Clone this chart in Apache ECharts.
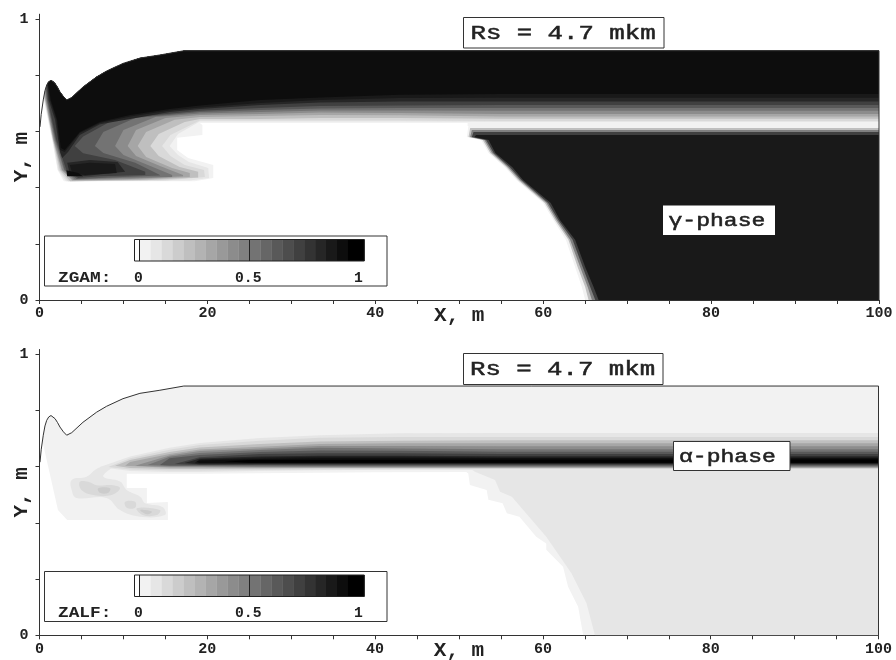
<!DOCTYPE html>
<html><head><meta charset="utf-8">
<style>html,body{margin:0;padding:0;background:#fff}#c{width:896px;height:660px}#c canvas{filter:blur(0.4px)}</style>
<script src="https://cdn.jsdelivr.net/npm/echarts@6/dist/echarts.min.js"></script>
</head><body><div id="c"></div>
<script>
const xTicks=[0,5,10,15,20,25,30,35,40,45,50,55,60,65,70,75,80,85,90,95,100];
const xLabels=[0,20,40,60,80,100];
const yTicks=[0,0.2,0.4,0.6,0.8,1];
const yLabels=[0,1];
const legendLevels=[0,0.05,0.1,0.15,0.2,0.25,0.3,0.35,0.4,0.45,0.5,0.55,0.6,0.65,0.7,0.75,0.8,0.85,0.9,0.95,1];
// Free surface of the domain, [x, y] in metres
const surface=[[0.06,0.616],[0.2,0.66],[0.45,0.712],[0.65,0.745],[0.86,0.765],[1.1,0.777],[1.37,0.782],[1.6,0.778],[1.85,0.771],[2.15,0.757],[2.44,0.741],[2.85,0.724],[3.24,0.712],[3.84,0.721],[5.18,0.758],[6.81,0.794],[8,0.815],[9.95,0.842],[11.97,0.861],[14.35,0.872],[17.2,0.887],[100,0.887]];
const stripX=[100,54.9,42.9,33.4,26.3,19.1];
// ZGAM: contour of each level, from the right edge leftwards
const gamLevels=[0.05,0.1,0.15,0.25,0.35,0.45,0.55,0.65,0.75,0.85,0.9,0.95];
const gamStrip=[
[0.63,0.63,0.63,0.63,0.63,0.63],
[0.633,0.633,0.635,0.635,0.635,0.635],
[0.637,0.637,0.639,0.639,0.639,0.639],
[0.645,0.645,0.648,0.648,0.644,0.644],
[0.653,0.653,0.657,0.658,0.655,0.651],
[0.662,0.662,0.665,0.667,0.662,0.658],
[0.673,0.673,0.674,0.674,0.669,0.664],
[0.683,0.683,0.683,0.681,0.676,0.669],
[0.694,0.694,0.692,0.69,0.683,0.673],
[0.706,0.706,0.706,0.703,0.694,0.68],
[0.72,0.72,0.719,0.712,0.701,0.685],
[0.733,0.733,0.73,0.721,0.712,0.692]];
const gamTail=[
[[19.4,0.623],[19.4,0.587],[16.4,0.577],[16.4,0.534],[17.7,0.505],[20.7,0.48],[20.7,0.434],[18.5,0.423],[2.9,0.423],[2.15,0.463],[1.5,0.569],[0.5,0.712],[0.4,0.712]],
[[16.5,0.591],[15.5,0.548],[16.5,0.516],[17.8,0.491],[20.1,0.47],[20.2,0.434],[17.9,0.425],[3.15,0.423],[2.2,0.463],[1.55,0.569],[0.55,0.712],[0.45,0.716]],
[[18.5,0.63],[15.6,0.587],[14.6,0.548],[15.6,0.512],[17.3,0.48],[19.6,0.463],[19.7,0.438],[15,0.425],[3.4,0.423],[2.3,0.463],[1.6,0.569],[0.6,0.712],[0.5,0.72]],
[[17.3,0.633],[14.2,0.591],[13.2,0.548],[14.2,0.512],[16.7,0.473],[18.9,0.456],[18.9,0.436],[13.2,0.427],[3.65,0.423],[2.45,0.463],[1.6,0.569],[0.65,0.712],[0.55,0.725]],
[[16.1,0.641],[12.7,0.598],[11.7,0.548],[12.7,0.509],[15.8,0.47],[17.9,0.452],[17.9,0.438],[12,0.429],[3.9,0.425],[2.6,0.463],[1.65,0.569],[0.7,0.712],[0.6,0.73]],
[[15,0.648],[11.5,0.605],[10.5,0.548],[11.5,0.512],[14.35,0.477],[17.1,0.445],[17.1,0.44],[10.8,0.431],[4,0.427],[2.7,0.463],[1.7,0.569],[0.75,0.712],[0.65,0.74]],
[[13.8,0.651],[10,0.605],[9,0.548],[10,0.516],[13.2,0.477],[15.8,0.445],[15.8,0.438],[9.6,0.434],[4.2,0.429],[2.9,0.463],[1.8,0.569],[0.85,0.712],[0.7,0.75]],
[[11.4,0.648],[7.6,0.598],[6.6,0.548],[7.6,0.523],[11.4,0.488],[14.35,0.445],[14.35,0.443],[8.4,0.436],[4.45,0.431],[3,0.463],[1.9,0.569],[0.9,0.712],[0.75,0.755]],
[[9,0.644],[5.2,0.582],[4.2,0.548],[5.2,0.522],[9,0.498],[12.6,0.456],[12.6,0.445],[7.2,0.44],[4.6,0.434],[3.2,0.463],[2,0.569],[1,0.712],[0.8,0.762]],
[[15.5,0.669],[10.8,0.644],[7.2,0.625],[4.8,0.587],[3.4,0.527],[2.7,0.505],[2.45,0.527],[1.85,0.641],[1.1,0.712],[0.9,0.77]],
[[15.5,0.674],[10.8,0.653],[7.2,0.63],[4.8,0.594],[3,0.527],[2.45,0.534],[2,0.641],[1.25,0.712],[0.95,0.772]],
[[15.5,0.68],[10.8,0.658],[7.2,0.633],[4.8,0.598],[3,0.534],[2.55,0.541],[2.1,0.641],[1.35,0.712],[1,0.775]]];
const gamPatchLevels=[0.05,0.85,0.9,0.95];
const gamPatches=[
[[51,0.619],[100,0.619],[100,0.632],[51,0.632]],
[[3.3,0.488],[6,0.498],[9.3,0.491],[10.2,0.456],[5.4,0.441],[3.6,0.448]],
[[3.6,0.48],[6,0.488],[9,0.484],[9.2,0.452],[5.4,0.445],[3.9,0.452]],
[[3.3,0.44],[3.2,0.462],[4.6,0.452],[5.2,0.44]]];
// ZGAM: lower-right wedge, x of each level at the heights in wedgeY
const wedgeY=[0.58,0.569,0.523,0.473,0.427,0.345,0.285,0.214,0.117,0.046,0];
const wedgeLevels=[0.05,0.25,0.5,0.75,0.9];
const wedgeTop=[0.621,0.612,0.605,0.598,0.587];
const wedgeX=[
[50.9,52.6,53.5,55.4,56.8,60,61.2,62.7,63.8,64.6,65],
[51.1,52.8,53.7,55.6,57,60.2,61.4,63,64.1,65,65.4],
[51.3,53,53.9,55.8,57.2,60.4,61.6,63.2,64.4,65.3,65.8],
[51.5,53.2,54.1,56,57.4,60.6,61.8,63.5,64.7,65.6,66.2],
[51.8,53.5,54.3,56.3,57.6,60.9,62,63.8,65,66,66.6]];
// ZALF: the dark lens
const alfLevels=[0.1,0.15,0.25,0.35,0.45,0.55,0.65,0.75,0.85,0.9,0.95];
const alfUp=[
[0.72,0.72,0.719,0.712,0.702,0.684],
[0.706,0.706,0.706,0.703,0.692,0.677],
[0.694,0.694,0.692,0.69,0.681,0.668],
[0.683,0.683,0.683,0.681,0.671,0.661],
[0.673,0.673,0.674,0.674,0.665,0.656],
[0.662,0.662,0.665,0.667,0.659,0.649],
[0.653,0.653,0.657,0.658,0.652,0.642],
[0.645,0.645,0.648,0.648,0.645,0.634],
[0.637,0.637,0.639,0.639,0.636,0.629],
[0.633,0.633,0.635,0.635,0.632,0.626],
[0.63,0.63,0.63,0.63,0.627,0.622]];
const alfLow=[
[0.589,0.589,0.589,0.587,0.585,0.581],
[0.591,0.591,0.591,0.59,0.588,0.586],
[0.594,0.594,0.594,0.594,0.593,0.592],
[0.596,0.596,0.596,0.596,0.596,0.596],
[0.598,0.598,0.598,0.598,0.598,0.599],
[0.601,0.601,0.601,0.601,0.601,0.602],
[0.603,0.603,0.603,0.603,0.604,0.604],
[0.606,0.606,0.606,0.606,0.606,0.606],
[0.61,0.61,0.61,0.61,0.61,0.609],
[0.611,0.611,0.611,0.611,0.611,0.611],
[0.613,0.613,0.613,0.613,0.613,0.613]];
const alfTip=[
[[15.5,0.667],[10.8,0.636],[7.2,0.599],[10.8,0.585],[15.5,0.581]],
[[15.5,0.66],[10.8,0.63],[8.2,0.599],[10.8,0.59],[15.5,0.586]],
[[15.5,0.652],[10.8,0.624],[9,0.603],[10.8,0.595],[15.5,0.592]],
[[15.5,0.645],[10.8,0.617],[10.2,0.603],[15.5,0.596]],
[[15.5,0.64],[11.4,0.603],[15.5,0.599]],
[[15.5,0.635],[12.9,0.606],[15.5,0.602]],
[[15.5,0.63],[14.35,0.606],[15.5,0.604]],
[[16.1,0.61]],[[17.3,0.613]],[[18.5,0.613]],[[18.7,0.618]]];
const alfCore=[[100,0.626],[25,0.624],[22,0.619],[25,0.614],[100,0.614]];
const alfBase=[[100,0.585],[40,0.58],[19.1,0.575],[10.4,0.575],[10.4,0.524],[12.8,0.524],[12.8,0.471],[15.3,0.474],[15.3,0.41],[3.3,0.41],[2.2,0.446],[0.4,0.684]];
const alfWedgeOuter=[[100,0],[100,0.59],[50.5,0.59],[51.1,0.576],[51.3,0.535],[53.3,0.517],[53.5,0.482],[55.2,0.47],[55.7,0.434],[57.2,0.422],[59.2,0.351],[60.4,0.327],[60.4,0.304],[62.4,0.244],[63,0.173],[64.2,0.102],[64.8,0]];
const alfWedgeInner=[[100,0],[100,0.59],[51.5,0.59],[51.9,0.582],[54.3,0.553],[54.9,0.511],[56.3,0.493],[60.4,0.351],[63.4,0.221],[65.2,0.114],[66.2,0]];
const alfBlobLevels=[0.1,0.15,0.15,0.15,0.2,0.2];
const alfBlobs=[
[[3.84,0.553],[5.6,0.564],[7,0.595],[8.6,0.6],[7.6,0.565],[9.6,0.547],[10.4,0.517],[12,0.493],[12.6,0.47],[14.7,0.456],[14.95,0.428],[12,0.422],[9.6,0.446],[8,0.489],[4.4,0.489],[3.84,0.517]],
[[4.8,0.546],[5.8,0.546],[6.8,0.534],[8.8,0.534],[9.6,0.523],[8.6,0.499],[6.4,0.499],[5,0.517]],
[[10.2,0.475],[11.4,0.475],[11.4,0.454],[10.4,0.454]],
[[11.6,0.452],[14.35,0.446],[14,0.428],[12.3,0.428]],
[[7,0.523],[8.4,0.523],[8.2,0.507],[7.2,0.507]],
[[12,0.446],[13.4,0.44],[12.8,0.431]]];

const FONT='"Liberation Mono",monospace';
const grey=l=>{const v=Math.round(255*(1-l));return `rgb(${v},${v},${v})`;};

function closeToSurface(contour){
  const endX=contour[contour.length-1][0];
  return surface.filter(p=>p[0]>endX).concat(contour);
}
const gamPolys=[];
gamLevels.forEach((l,i)=>gamPolys.push({level:l,pts:closeToSurface(stripX.map((x,j)=>[x,gamStrip[i][j]]).concat(gamTail[i]))}));
gamPatchLevels.forEach((l,i)=>gamPolys.push({level:l,pts:gamPatches[i]}));
wedgeLevels.forEach((l,i)=>gamPolys.push({level:l,pts:[[100,0],[100,wedgeTop[i]],[wedgeX[i][0]+0.2,wedgeTop[i]]].concat(wedgeY.map((y,j)=>[wedgeX[i][j],y]))}));
gamPolys.sort((a,b)=>a.level-b.level);

const alfPolys=[{level:0.05,pts:closeToSurface(alfBase)},{level:0.05,pts:alfWedgeOuter},{level:0.1,pts:alfWedgeInner}];
alfBlobLevels.forEach((l,i)=>alfPolys.push({level:l,pts:alfBlobs[i],smooth:0.4}));
alfLevels.forEach((l,i)=>alfPolys.push({level:l,pts:stripX.map((x,j)=>[x,alfUp[i][j]]).concat(alfTip[i],stripX.slice().reverse().map((x,j)=>[x,alfLow[i][5-j]]))}));
alfPolys.push({level:1,pts:alfCore});
alfPolys.sort((a,b)=>a.level-b.level);

const outline=surface.concat([[100,0]]);

function fieldSeries(polys,idx){
  return {type:'custom',coordinateSystem:'cartesian2d',xAxisIndex:idx,yAxisIndex:idx,silent:true,clip:true,
    data:polys.map((p,i)=>[i]),encode:{x:[],y:[]},
    renderItem:(params,api)=>{
      const p=polys[params.dataIndex];
      return {type:'polygon',shape:{points:p.pts.map(q=>api.coord(q)),smooth:p.smooth||0},style:{fill:grey(p.level),stroke:null}};
    }};
}
function outlineSeries(idx){
  return {type:'line',xAxisIndex:idx,yAxisIndex:idx,data:outline,symbol:'none',smooth:false,silent:true,z:5,clip:false,
    lineStyle:{color:'#333',width:1}};
}
const axisCommon={axisLine:{show:true,onZero:false,lineStyle:{color:'#333',width:1}},splitLine:{show:false}};
function xAxis(i){return Object.assign({type:'value',gridIndex:i,min:0,max:100,interval:5,name:'X, m',nameLocation:'middle',nameGap:5,nameMoveOverlap:false,
  nameTextStyle:{fontFamily:FONT,fontWeight:'bold',fontSize:21,color:'#222'},
  axisTick:{show:true,length:4,customValues:xTicks,lineStyle:{color:'#333'}},
  axisLabel:{customValues:xLabels,margin:6,fontFamily:FONT,fontWeight:'bold',fontSize:15,color:'#222',hideOverlap:false,showMinLabel:true,showMaxLabel:true}},axisCommon);}
function yAxis(i){return Object.assign({type:'value',gridIndex:i,min:0,max:1.017,name:'Y, m',nameLocation:'middle',nameGap:7,nameRotate:90,nameMoveOverlap:false,
  nameTextStyle:{fontFamily:FONT,fontWeight:'bold',fontSize:21,color:'#222'},
  axisTick:{show:true,length:4,customValues:yTicks,lineStyle:{color:'#333'}},
  axisLabel:{customValues:yLabels,margin:11,fontFamily:FONT,fontWeight:'bold',fontSize:15,color:'#222'}},axisCommon);}

function txt(s,x,y,size,sx,soft){return {type:'text',x:x,y:y,scaleX:sx||1,z:110,style:{text:s,font:`${soft?'normal':'bold'} ${size}px ${FONT}`,fill:'#222',stroke:soft?'#222':null,lineWidth:soft?0.5:0,textVerticalAlign:'middle',verticalAlign:'middle'}};}
function box(x0,y0,x1,y1,stroke){return {type:'rect',z:105,shape:{x:x0,y:y0,width:x1-x0,height:y1-y0},style:{fill:'#fff',stroke:stroke||null,lineWidth:stroke?1:0}};}
function legend(name,dy){
  const out=[box(44.5,236+dy,387,286+dy,'#333')];
  const cell=10.96,base=139.7;
  legendLevels.forEach((l,i)=>{
    const x0=i===0?134.3:base+(i-1)*cell, w=i===0?5.4:(i===20?cell+5.4:cell);
    out.push({type:'rect',z:106,shape:{x:x0,y:239.5+dy,width:w+0.3,height:21.5},style:{fill:grey(l),stroke:null}});
  });
  out.push({type:'rect',z:107,shape:{x:134.5,y:239.5+dy,width:229.8,height:21.5},style:{fill:'transparent',stroke:'#222',lineWidth:1}});
  [139.5,249.5].forEach(x=>out.push({type:'line',z:107,shape:{x1:x,y1:239.5+dy,x2:x,y2:261+dy},style:{stroke:'#222',lineWidth:1}}));
  out.push(txt(name,58,278+dy,14,1.27));
  out.push(txt('0',134,278+dy,14,1.05));
  out.push(txt('0.5',235,278+dy,14,1.05));
  out.push(txt('1',354,278+dy,14,1.05));
  return out;
}
const graphics=[
 box(463.5,17.5,664,48,'#333'),txt('Rs = 4.7 mkm',470.5,33.5,20,1.285,true),
 box(463.5,353.5,663,384.5,'#333'),txt('Rs = 4.7 mkm',470,369.5,20,1.285,true),
 box(663,205.5,775,235,null),txt('γ-phase',668.5,221.5,18,1.28,true),
 box(673.5,441.5,790,470.5,'#333'),txt('α-phase',679,457,18,1.28,true),
].concat(legend('ZGAM:',0),legend('ZALF:',335.5));

const chart=echarts.init(document.getElementById('c'),null,{renderer:'canvas'});
chart.setOption({
  animation:false,backgroundColor:'#fff',tooltip:{show:false},
  grid:[{left:39.5,top:14.2,width:839.5,height:285.8,outerBoundsMode:'none'},{left:39.5,top:349.5,width:839,height:285.8,outerBoundsMode:'none'}],
  xAxis:[xAxis(0),xAxis(1)],yAxis:[yAxis(0),yAxis(1)],
  series:[fieldSeries(gamPolys,0),outlineSeries(0),fieldSeries(alfPolys,1),outlineSeries(1)],
  graphic:{elements:graphics}
});
</script></body></html>
